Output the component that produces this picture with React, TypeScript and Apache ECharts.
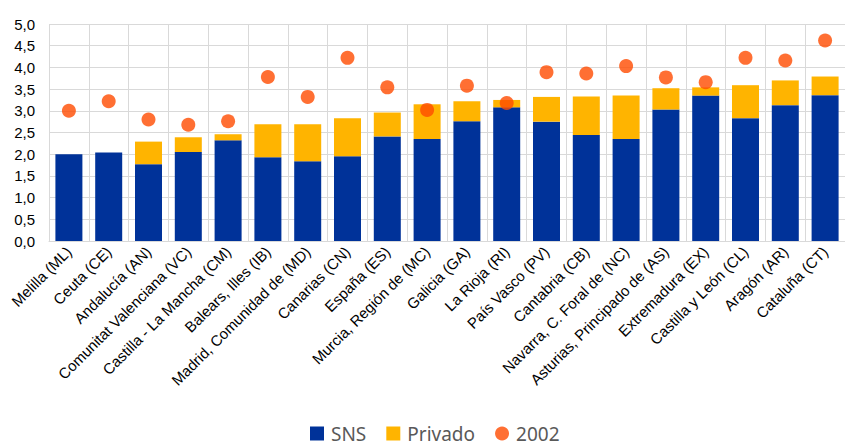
import React, { useEffect, useRef } from "react";
import * as echarts from "echarts";

const categories = [
  "Melilla (ML)",
  "Ceuta (CE)",
  "Andalucía (AN)",
  "Comunitat Valenciana (VC)",
  "Castilla - La Mancha (CM)",
  "Balears, Illes (IB)",
  "Madrid, Comunidad de (MD)",
  "Canarias (CN)",
  "España (ES)",
  "Murcia, Región de (MC)",
  "Galicia (GA)",
  "La Rioja (RI)",
  "País Vasco (PV)",
  "Cantabria (CB)",
  "Navarra, C. Foral de (NC)",
  "Asturias, Principado de (AS)",
  "Extremadura (EX)",
  "Castilla y León (CL)",
  "Aragón (AR)",
  "Cataluña (CT)",
];

const sns = [2.0, 2.04, 1.77, 2.05, 2.32, 1.93, 1.84, 1.95, 2.41, 2.35, 2.76, 3.08, 2.75, 2.44, 2.35, 3.03, 3.35, 2.83, 3.13, 3.36];
const privado = [0.0, 0.0, 0.52, 0.34, 0.14, 0.76, 0.85, 0.88, 0.55, 0.8, 0.46, 0.17, 0.57, 0.89, 1.0, 0.49, 0.19, 0.76, 0.57, 0.43];
const y2002 = [3.0, 3.22, 2.8, 2.68, 2.76, 3.78, 3.32, 4.22, 3.54, 3.02, 3.58, 3.18, 3.89, 3.86, 4.03, 3.77, 3.66, 4.22, 4.16, 4.62];

const yTicks = { min: 0, max: 5, interval: 0.5 };

export default function App() {
  const ref = useRef<HTMLDivElement>(null);
  useEffect(() => {
    document.body.style.margin = "0";
    const chart = echarts.init(ref.current!, null, { renderer: "svg" });
    const font = "Arial, 'Liberation Sans', sans-serif";
    chart.setOption({
      animation: false,
      backgroundColor: "#ffffff",
      grid: { left: 49, top: 24, width: 802, height: 217 },
      legend: {
        left: 310,
        top: 424,
        padding: 0,
        itemWidth: 14,
        itemHeight: 14,
        itemGap: 20,
        textStyle: { fontFamily: "'Noto Sans', sans-serif", fontSize: 19, color: "#595959", lineHeight: 19, padding: [0, 0, 0, 2] },
        data: [
          { name: "SNS", icon: "rect" },
          { name: "Privado", icon: "rect" },
          { name: "2002", icon: "circle" },
        ],
      },
      xAxis: {
        type: "category",
        data: categories,
        axisLine: { show: true, lineStyle: { color: "#d9d9d9", width: 1 } },
        axisTick: { show: false },
        splitLine: { show: true, lineStyle: { color: "#d9d9d9", width: 1 } },
        axisLabel: {
          interval: 0,
          rotate: 45,
          margin: 8,
          fontFamily: font,
          fontSize: 15,
          color: "#000000",
        },
      },
      yAxis: {
        type: "value",
        min: yTicks.min,
        max: yTicks.max,
        interval: yTicks.interval,
        axisLine: { show: false },
        axisTick: { show: false },
        splitLine: { show: true, lineStyle: { color: "#d9d9d9", width: 1 } },
        axisLabel: {
          margin: 14,
          fontFamily: font,
          fontSize: 15,
          color: "#000000",
          formatter: (v: number) => v.toFixed(1).replace(".", ","),
        },
      },
      series: [
        {
          name: "SNS",
          type: "bar",
          stack: "total",
          data: sns,
          barWidth: 27,
          itemStyle: { color: "#003299" },
        },
        {
          name: "Privado",
          type: "bar",
          stack: "total",
          data: privado,
          barWidth: 27,
          itemStyle: { color: "#FFB400" },
        },
        {
          name: "2002",
          type: "scatter",
          data: y2002,
          symbol: "circle",
          symbolSize: 14,
          z: 5,
          itemStyle: { color: "#FF4B00" },
        },
      ],
    });
    return () => chart.dispose();
  }, []);
  return <div ref={ref} style={{ width: 845, height: 446 }} />;
}
